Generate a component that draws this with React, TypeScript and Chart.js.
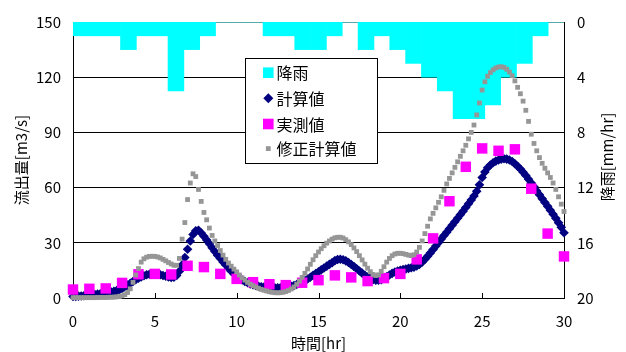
import React, { useEffect, useRef } from "react";
import { Chart, registerables } from "chart.js";

Chart.register(...registerables);

const FONT = '"Noto Sans CJK JP", "Noto Sans", sans-serif';

// hourly categories 0..30
const hours = [0, 1, 2, 3, 4, 5, 6, 7, 8, 9, 10, 11, 12, 13, 14, 15, 16, 17, 18, 19, 20, 21, 22, 23, 24, 25, 26, 27, 28, 29, 30];

// 降雨 [mm/hr] (hourly)
const rainfall = [1, 1, 1, 2, 1, 1, 5, 2, 1, 0, 0, 0, 1, 1, 2, 2, 1, 0, 2, 1, 2, 3, 4, 5, 7, 7, 6, 4, 3, 1, 0];

// 実測値 [m3/s] (hourly)
const observed = [4.6, 5.0, 5.2, 8.2, 12.9, 13.1, 12.8, 17.5, 16.8, 13.1, 10.4, 8.6, 7.5, 7.0, 8.3, 9.7, 12.3, 11.2, 9.2, 10.8, 13.1, 21.0, 32.4, 52.6, 71.3, 81.3, 80.0, 80.8, 59.4, 35.0, 22.6];

// 10-minute step for simulated series
const stepHours = 1 / 6;

// 計算値 [m3/s] (every 10 min)
const calculated = [
  0.8, 0.9, 1.0, 1.1, 1.2, 1.4,
  1.5, 1.7, 1.9, 2.1, 2.3, 2.5,
  2.8, 3.0, 3.3, 3.6, 4.0, 4.5,
  5.2, 6.0, 7.0, 8.0, 9.0, 10.0,
  10.8, 11.5, 12.1, 12.6, 12.9, 13.1,
  13.1, 12.9, 12.6, 12.2, 11.8, 11.4,
  11.2, 11.3, 12.2, 14.5, 18.0, 22.0,
  26.5, 31.0, 34.5, 36.5, 36.8, 35.3,
  33.5, 31.5, 29.5, 27.3, 25.3, 23.3,
  21.5, 19.6, 17.9, 16.2, 14.6, 13.2,
  12.0, 10.8, 9.8, 9.0, 8.3, 7.7,
  7.2, 6.8, 6.4, 6.1, 5.9, 5.7,
  5.6, 5.5, 5.5, 5.5, 5.6, 5.7,
  5.9, 6.1, 6.4, 6.8, 7.3, 7.9,
  8.6, 9.4, 10.3, 11.3, 12.3, 13.3,
  14.3, 15.3, 16.3, 17.3, 18.3, 19.2,
  20.3, 20.9, 21.1, 20.8, 20.2, 19.3,
  18.2, 17.1, 15.9, 14.7, 13.5, 12.4,
  11.4, 10.6, 10.0, 9.7, 9.7, 10.0,
  10.6, 11.5, 12.5, 13.4, 14.1, 14.6,
  15.1, 15.5, 15.8, 16.1, 16.4, 16.8,
  17.4, 18.3, 19.5, 21.0, 22.7, 24.5,
  26.3, 28.2, 30.1, 32.0, 33.9, 35.8,
  37.7, 39.6, 41.5, 43.4, 45.3, 47.2,
  49.2, 51.2, 53.3, 55.4, 58.0, 61.5,
  65.5, 68.5, 70.8, 72.3, 73.5, 74.4,
  75.0, 75.5, 75.7, 75.5, 75.0, 74.2,
  73.0, 71.6, 70.1, 68.4, 66.6, 64.6,
  62.5, 60.4, 58.2, 56.1, 54.0, 51.9,
  49.8, 47.7, 45.5, 43.3, 40.9, 38.4,
  35.5,
];

// 修正計算値 [m3/s] (every 10 min)
const corrected = [
  0.2, 0.2, 0.2, 0.2, 0.2, 0.2,
  0.2, 0.2, 0.2, 0.3, 0.3, 0.3,
  0.3, 0.4, 0.4, 0.5, 0.6, 0.8,
  1.2, 1.8, 3.0, 5.0, 8.5, 12.5,
  16.0, 19.5, 21.3, 22.2, 22.6, 22.7,
  22.6, 22.3, 21.8, 21.0, 20.2, 19.3,
  18.5, 17.8, 17.8, 21.5, 32.0, 41.0,
  53.5, 62.5, 67.5, 66.0, 59.0, 52.5,
  46.5, 42.5, 38.0, 34.0, 31.0, 28.5,
  25.8, 23.3, 21.0, 19.0, 17.3, 15.7,
  14.2, 12.5, 11.0, 9.7, 8.5, 7.5,
  6.7, 6.0, 5.3, 4.7, 4.2, 3.8,
  3.4, 3.1, 2.9, 2.8, 2.9, 3.1,
  3.5, 4.1, 4.9, 6.0, 7.5, 9.2,
  11.2, 13.4, 15.8, 18.3, 20.8, 23.0,
  25.0, 26.8, 28.4, 29.8, 31.0, 32.0,
  32.7, 33.0, 33.0, 32.6, 31.7, 30.5,
  29.0, 27.2, 25.2, 23.0, 20.7, 18.4,
  16.2, 14.3, 12.8, 12.2, 12.6, 14.5,
  17.0, 19.5, 21.5, 23.0, 23.9, 24.3,
  24.3, 24.1, 23.7, 23.3, 23.1, 23.5,
  25.0, 27.5, 31.0, 35.0, 39.0, 43.0,
  46.0, 49.0, 52.0, 55.0, 58.5, 62.0,
  65.0, 68.0, 71.0, 74.0, 77.0, 80.0,
  83.0, 86.5, 90.0, 94.0, 99.5, 106.0,
  113.0, 117.5, 120.5, 122.5, 124.0, 125.0,
  125.5, 125.7, 125.3, 124.3, 122.8, 120.8,
  118.0, 114.5, 111.0, 107.0, 102.0, 96.0,
  89.0, 84.0, 80.0, 76.3, 73.2, 70.5,
  68.0, 65.5, 62.5, 59.0, 55.0, 51.0,
  47.0,
];

// axis ranges / ticks
const flowTicks = { min: 0, max: 150, step: 30 };
const rainTicks = { min: 0, max: 20, step: 4 };
const timeTicks = { min: 0, max: 30, step: 5 };

const seriesNames = ["降雨", "計算値", "実測値", "修正計算値"];
const COLORS = { rain: "#00FFFF", calc: "#000080", obs: "#FF00FF", corr: "#969696" };

const overlayPlugin = {
  id: "overlay",
  afterDraw(chart: any) {
    const { ctx, chartArea: ca, scales } = chart;
    ctx.save();
    // inside tick marks on the time axis
    ctx.strokeStyle = "#000";
    ctx.lineWidth = 1;
    for (let v = timeTicks.min + timeTicks.step; v < timeTicks.max; v += timeTicks.step) {
      const px = Math.round(scales.x.getPixelForValue(v)) + 0.5;
      ctx.beginPath();
      ctx.moveTo(px, ca.bottom);
      ctx.lineTo(px, ca.bottom - 5);
      ctx.stroke();
    }
    // axis titles
    ctx.fillStyle = "#000";
    ctx.font = `15px ${FONT}`;
    ctx.textAlign = "center";
    ctx.textBaseline = "middle";
    const midX = (ca.left + ca.right) / 2;
    const midY = (ca.top + ca.bottom) / 2;
    ctx.fillText("時間[hr]", midX, ca.bottom + 45);
    ctx.save();
    ctx.translate(21, midY);
    ctx.rotate(-Math.PI / 2);
    ctx.fillText("流出量[m3/s]", 0, 0);
    ctx.restore();
    ctx.save();
    ctx.translate(607, midY - 3);
    ctx.rotate(-Math.PI / 2);
    ctx.fillText("降雨[mm/hr]", 0, 0);
    ctx.restore();

    // legend box
    const lx = 245.5, ly = 58.5, lw = 132, lh = 105;
    ctx.fillStyle = "#fff";
    ctx.fillRect(lx, ly, lw, lh);
    ctx.strokeStyle = "#000";
    ctx.strokeRect(lx, ly, lw, lh);
    const rows = [72.7, 98.3, 124, 148.6];
    const mx = 268.3;
    ctx.fillStyle = COLORS.rain;
    ctx.fillRect(mx - 5.3, rows[0] - 5.3, 10.6, 10.6);
    ctx.fillStyle = COLORS.calc;
    ctx.beginPath();
    ctx.moveTo(mx - 5, rows[1]);
    ctx.lineTo(mx, rows[1] - 5);
    ctx.lineTo(mx + 5, rows[1]);
    ctx.lineTo(mx, rows[1] + 5);
    ctx.closePath();
    ctx.fill();
    ctx.fillStyle = COLORS.obs;
    ctx.fillRect(mx - 5.3, rows[2] - 5.3, 10.6, 10.6);
    ctx.fillStyle = COLORS.corr;
    ctx.fillRect(mx - 2.4, rows[3] - 2.4, 4.8, 4.8);
    ctx.fillStyle = "#000";
    ctx.textAlign = "left";
    ctx.font = `16px ${FONT}`;
    seriesNames.forEach((name, i) => ctx.fillText(name, 276.5, rows[i] + 0.5));
    ctx.restore();
  },
};

export default function App() {
  const ref = useRef<HTMLCanvasElement>(null);

  useEffect(() => {
    if (!ref.current) return;
    const calcPoints = calculated.map((v, i) => ({ x: i * stepHours, y: v }));
    const corrPoints = corrected.map((v, i) => ({ x: i * stepHours, y: v }));
    const obsPoints = observed.map((v, i) => ({ x: hours[i], y: v }));
    const tickFont = { size: 15, family: FONT };

    const chart = new Chart(ref.current, {
      type: "scatter",
      data: {
        datasets: [
          {
            type: "bar",
            label: seriesNames[0],
            data: rainfall,
            xAxisID: "xb",
            yAxisID: "y2",
            backgroundColor: COLORS.rain,
            borderWidth: 0,
            barPercentage: 1,
            categoryPercentage: 1,
            grouped: false,
            order: 4,
          },
          {
            type: "scatter",
            label: seriesNames[1],
            data: calcPoints,
            xAxisID: "x",
            yAxisID: "y",
            pointStyle: "rectRot",
            pointRadius: 4.8,
            borderWidth: 0,
            backgroundColor: COLORS.calc,
            borderColor: COLORS.calc,
            clip: false,
            order: 3,
          },
          {
            type: "scatter",
            label: seriesNames[2],
            data: obsPoints,
            xAxisID: "x",
            yAxisID: "y",
            pointStyle: "rect",
            pointRadius: 7.4,
            borderWidth: 0,
            backgroundColor: COLORS.obs,
            borderColor: COLORS.obs,
            clip: false,
            order: 2,
          },
          {
            type: "scatter",
            label: seriesNames[3],
            data: corrPoints,
            xAxisID: "x",
            yAxisID: "y",
            pointStyle: "rect",
            pointRadius: 3.4,
            borderWidth: 0,
            backgroundColor: COLORS.corr,
            borderColor: COLORS.corr,
            clip: false,
            order: 1,
          },
        ],
      } as any,
      options: {
        responsive: false,
        animation: false,
        devicePixelRatio: 1,
        events: [],
        datasets: { bar: { barPercentage: 1, categoryPercentage: 1, grouped: false } },
        layout: { autoPadding: false, padding: { top: 19, left: 0, right: 0, bottom: 0 } },
        plugins: { legend: { display: false }, tooltip: { enabled: false } },
        scales: {
          xb: {
            type: "category",
            labels: hours.map(String),
            offset: true,
            display: false,
            grid: { offset: true },
          },
          x: {
            type: "linear",
            position: "bottom",
            offset: false,
            min: timeTicks.min,
            max: timeTicks.max,
            ticks: { stepSize: timeTicks.step, font: tickFont, color: "#000", padding: 14, maxRotation: 0, autoSkip: false },
            grid: { display: false, drawTicks: false, offset: false },
            border: { display: true, color: "#000", width: 1 },
            afterFit: (s: any) => { s.height = 54; },
          },
          y: {
            type: "linear",
            position: "left",
            min: flowTicks.min,
            max: flowTicks.max,
            ticks: { stepSize: flowTicks.step, font: tickFont, color: "#000", padding: 12 },
            grid: {
              drawTicks: false,
              lineWidth: 1,
              color: (c: any) => (c.tick && c.tick.value === flowTicks.max ? "#808080" : "#000"),
            },
            border: { display: true, color: "#000", width: 1 },
            afterFit: (s: any) => { s.width = 73; },
          },
          y2: {
            type: "linear",
            position: "right",
            min: rainTicks.min,
            max: rainTicks.max,
            reverse: true,
            ticks: { stepSize: rainTicks.step, font: tickFont, color: "#000", padding: 13 },
            grid: { display: false, drawTicks: false },
            border: { display: true, color: "#000", width: 1 },
            afterFit: (s: any) => { s.width = 62; },
          },
        },
      } as any,
      plugins: [overlayPlugin],
    });
    return () => chart.destroy();
  }, []);

  return (
    <div style={{ position: "fixed", left: 0, top: 0, width: 626, height: 352, background: "#fff" }}>
      <canvas ref={ref} width={626} height={352} style={{ display: "block" }} />
    </div>
  );
}
